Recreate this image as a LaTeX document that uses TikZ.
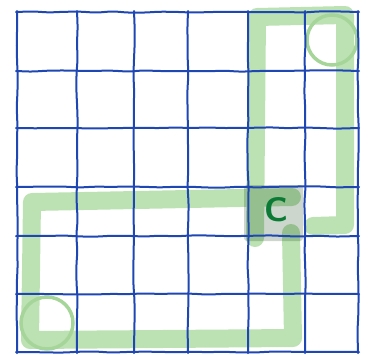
\documentclass[tikz,border=0pt]{standalone}
\usetikzlibrary{decorations.pathmorphing}
\definecolor{cblue}{HTML}{1F47B4}
\definecolor{cgreen}{HTML}{BCE2B3}
\definecolor{cloop}{HTML}{A6D59A}
\definecolor{cdark}{HTML}{0B7A35}
\tikzset{
  gridline/.style={draw=cblue, line width=2pt, line cap=round, rounded corners=5pt,
    decorate, decoration={random steps, segment length=16pt, amplitude=0.7pt}},
  band/.style={draw=cgreen, line width=18pt, line join=round, line cap=round},
  loopmark/.style={draw=cloop, line width=3.5pt},
  cellshade/.style={fill=black!80!green, fill opacity=0.2, rounded corners=3pt},
  letter/.style={text=cdark, font=\sffamily\bfseries\fontsize{34}{34}\selectfont},
}
\begin{document}
\begin{tikzpicture}[x=1pt, y=-1pt]
  \pgfmathsetseed{7}
  \useasboundingbox (0,0) rectangle (374,354);
  % highlighted route
  \draw[band] (292,197) -- (32,202) -- (30,340) -- (293,338) -- (291,233);
  \draw[band] (255,238) -- (257,17) -- (345,15) -- (345,225) -- (313,226);
  \draw[loopmark] (47,323) circle (26pt);
  \draw[loopmark] (332,40) circle (25pt);
  % current cell
  \fill[cellshade] (244,185) rectangle (303,241);
  % grid
  \foreach \x in {17,77,134,188,248,305,358} \draw[gridline] (\x,11) -- (\x,353);
  \foreach \y in {12,71,128,187,236,294,352} \draw[gridline] (16,\y) -- (359,\y);
  \node[letter] (c) at (276,210) {C};
\end{tikzpicture}
\end{document}
